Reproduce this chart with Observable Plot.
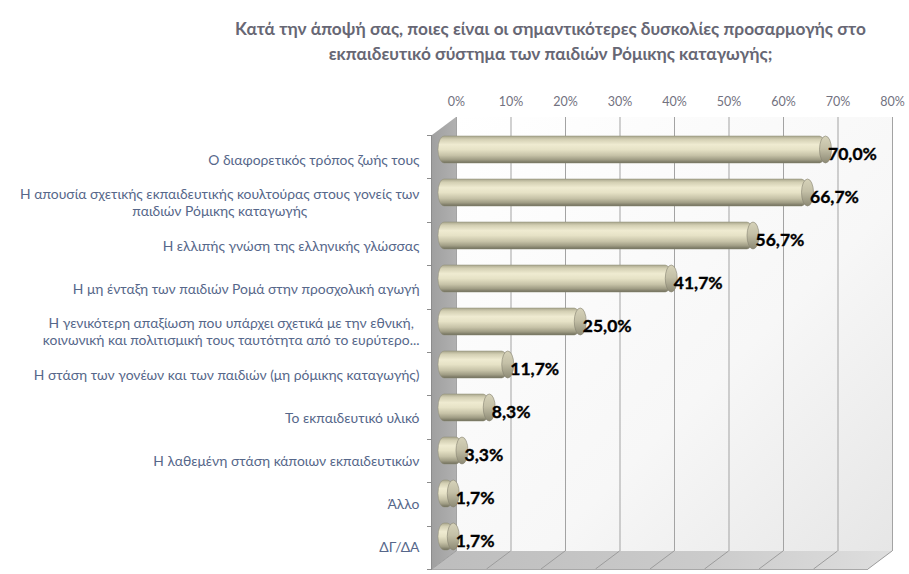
<!DOCTYPE html>
<html><head><meta charset="utf-8">
<script src="https://cdn.jsdelivr.net/npm/d3@7"></script>
<script src="https://cdn.jsdelivr.net/npm/@observablehq/plot@0.6"></script>
<style>
body{margin:0;background:#fff;width:909px;height:574px;overflow:hidden;font-family:Lato,"Open Sans",sans-serif}
#title{height:75px;box-sizing:border-box;padding-top:16px;padding-left:192px;text-align:center;font-weight:bold;font-size:17.3px;line-height:25px;color:#676774}
#chart svg{display:block}
</style></head><body>
<div id="title">Κατά την άποψή σας, ποιες είναι οι σημαντικότερες δυσκολίες προσαρμογής στο<br>εκπαιδευτικό σύστημα των παιδιών Ρόμικης καταγωγής;</div>
<div id="chart"></div>
<script>
const categories = [
  "Ο διαφορετικός τρόπος ζωής τους",
  "Η απουσία σχετικής εκπαιδευτικής κουλτούρας στους γονείς των\nπαιδιών Ρόμικης καταγωγής",
  "Η ελλιπής γνώση της ελληνικής γλώσσας",
  "Η μη ένταξη των παιδιών Ρομά στην προσχολική αγωγή",
  "Η γενικότερη απαξίωση που υπάρχει σχετικά με την εθνική,\nκοινωνική και πολιτισμική τους ταυτότητα από το ευρύτερο...",
  "Η στάση των γονέων και των παιδιών (μη ρόμικης καταγωγής)",
  "Το εκπαιδευτικό υλικό",
  "Η λαθεμένη στάση κάποιων εκπαιδευτικών",
  "Άλλο",
  "ΔΓ/ΔΑ"
];
const values = [70.0, 66.7, 56.7, 41.7, 25.0, 11.7, 8.3, 3.3, 1.7, 1.7];
const xTicks = [0, 10, 20, 30, 40, 50, 60, 70, 80];

const data = categories.map((c, i) => ({category: c, value: values[i]}));
const DX = 24, DY = 18;

function walls(index, scales, values_, dims) {
  const x = scales.x;
  const top = dims.marginTop, bottom = dims.height - dims.marginBottom;
  const left = dims.marginLeft, right = dims.width - dims.marginRight;
  const g = d3.create("svg:g");
  g.append("rect").attr("x", left).attr("y", top).attr("width", right - left).attr("height", bottom - top).attr("fill", "url(#backwall)");
  g.append("path").attr("d", `M${left},${top}L${left - DX},${top + DY}L${left - DX},${bottom + DY}L${left},${bottom}Z`).attr("fill", "url(#sidewall)");
  g.append("path").attr("d", `M${left},${bottom}L${right},${bottom}L${right - DX},${bottom + DY}L${left - DX},${bottom + DY}Z`).attr("fill", "url(#floor)");
  for (const t of xTicks) {
    const xt = x(t);
    g.append("line").attr("x1", xt).attr("y1", bottom).attr("x2", xt - DX).attr("y2", bottom + DY).attr("stroke", "#9c9c9c").attr("stroke-width", 1);
  }
  g.append("line").attr("x1", left - DX).attr("x2", right - DX).attr("y1", bottom + DY + 0.5).attr("y2", bottom + DY + 0.5).attr("stroke", "#a8a8a8");
  g.append("line").attr("x1", left - DX - 0.5).attr("x2", left - DX - 0.5).attr("y1", top + DY).attr("y2", bottom + DY).attr("stroke", "#8c8c8c");
  const bw = (bottom - top) / categories.length;
  for (let k = 0; k <= categories.length; k++) {
    const yy = Math.round(top + k * bw + DY) + 0.5;
    g.append("line").attr("x1", left - DX - 5).attr("x2", left - DX).attr("y1", yy).attr("y2", yy).attr("stroke", "#8c8c8c");
  }
  return g.node();
}

const fmt = v => v.toFixed(1).replace(".", ",") + "%";

const plot = Plot.plot({
  width: 909, height: 499,
  marginTop: 42, marginBottom: 23, marginLeft: 456, marginRight: 17,
  style: {background: "transparent", fontFamily: "Lato, 'Open Sans', sans-serif", overflow: "visible"},
  x: {domain: [0, 80]},
  y: {domain: categories, padding: 0},
  marks: [
    walls,
    Plot.gridX(xTicks, {stroke: "#a3a3a3", strokeOpacity: 1, strokeWidth: 1}),
    Plot.axisX(xTicks, {anchor: "top", tickSize: 0, tickPadding: 12, tickFormat: d => d + "%", fontSize: 12.5, fill: "#727280", label: null}),
    Plot.axisY({anchor: "left", tickSize: 0, tickPadding: 37, dy: 18, fontSize: 13.9, fill: "#56678a", lineHeight: 1.25, label: null}),
    Plot.barX(data, {y: "category", x1: d => 0, x2: "value", insetTop: 8, insetBottom: 8, insetLeft: -6, rx: 6, ry: 13.7, dx: -12, dy: 9, fill: "url(#cyl)", stroke: "#8f8c76", strokeWidth: 0.5}),
    Plot.barX(data, {y: "category", x1: "value", x2: "value", insetTop: 8, insetBottom: 8, insetLeft: -6, insetRight: -6, rx: 6, ry: 13.7, dx: -12, dy: 9, fill: "url(#cap)", stroke: "#858270", strokeWidth: 0.6}),
    Plot.text(data, {y: "category", x: "value", text: d => fmt(d.value), textAnchor: "start", dx: -10, dy: 13, fontSize: 17.5, fontWeight: "bold", fill: "#000", stroke: "#000", strokeWidth: 0.35})
  ]
});

const svg = d3.select(plot);
const defs = svg.insert("defs", ":first-child");
function grad(id, x2, y2, stops) {
  const lg = defs.append("linearGradient").attr("id", id).attr("x1", 0).attr("y1", 0).attr("x2", x2).attr("y2", y2);
  for (const [o, c] of stops) lg.append("stop").attr("offset", o).attr("stop-color", c);
}
grad("cyl", 0, 1, [[0, "#a9a68d"], [0.12, "#d3cfb3"], [0.32, "#efebd1"], [0.5, "#e6e2c6"], [0.72, "#c6c2a7"], [0.88, "#9f9c84"], [1, "#6f6d5b"]]);
grad("cap", 0, 1, [[0, "#d6d2b9"], [0.45, "#c4c0a7"], [1, "#8c8974"]]);
grad("backwall", 1, 1, [[0, "#ffffff"], [0.6, "#f7f7f7"], [1, "#e6e6e6"]]);
grad("sidewall", 1, 0, [[0, "#a0a0a0"], [1, "#b0b0b0"]]);
grad("floor", 1, 0, [[0, "#bdbdbd"], [0.6, "#cbcbcb"], [1, "#dedede"]]);

document.getElementById("chart").appendChild(plot);

// center multi-line category labels relative to each other (Excel style)
svg.selectAll("g[aria-label='y-axis tick label'] text").each(function () {
  const tspans = this.querySelectorAll("tspan");
  if (tspans.length < 2) return;
  let w = 0;
  tspans.forEach(t => { w = Math.max(w, t.getComputedTextLength()); });
  this.setAttribute("text-anchor", "middle");
  tspans.forEach(t => t.setAttribute("x", -w / 2));
});
</script>
</body></html>
